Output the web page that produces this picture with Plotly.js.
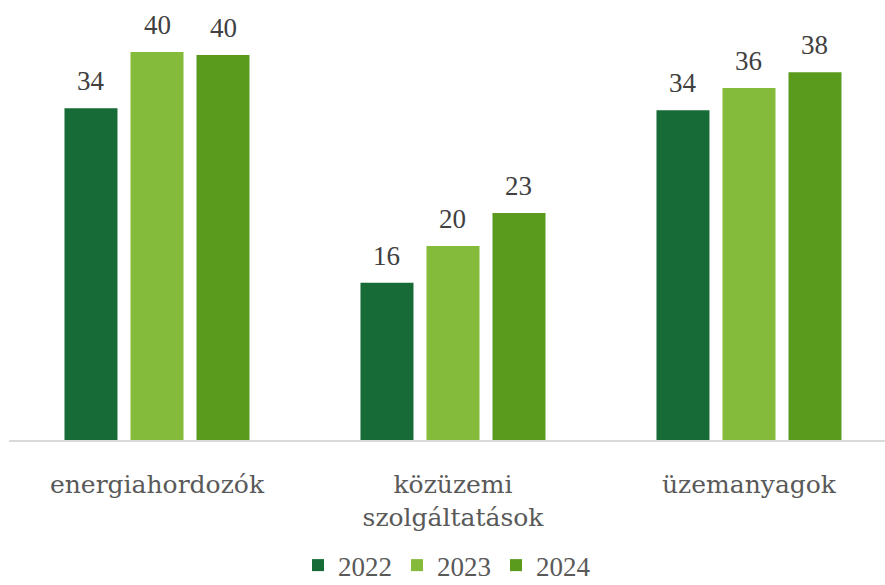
<!DOCTYPE html>
<html>
<head>
<meta charset="utf-8">
<script src="https://cdn.plot.ly/plotly-3.0.1.min.js"></script>
<style>html,body{margin:0;padding:0;background:#fff;}#chart{width:885px;height:585px;}</style>
</head>
<body>
<div id="chart"></div>
<script>
const categories = ['energiahordozók', 'közüzemi<br>szolgáltatások', 'üzemanyagok'];
const seriesNames = ['2022', '2023', '2024'];
const values2022 = [34.2, 16.2, 34.0];
const values2023 = [40.0, 20.0, 36.3];
const values2024 = [39.7, 23.4, 37.9];
const colors = ['#166B37', '#84BB3B', '#5A9A1C'];

const allValues = [values2022, values2023, values2024];
const traces = allValues.map((vals, i) => ({
  type: 'bar',
  name: seriesNames[i],
  x: categories,
  y: vals,
  marker: {color: colors[i]},
  hoverinfo: 'skip'
}));

const slot = 66; // px offset between bars in a group
const annotations = [];
allValues.forEach((vals, i) => {
  vals.forEach((v, j) => {
    annotations.push({
      x: categories[j], y: v, xref: 'x', yref: 'y',
      text: String(Math.round(v)),
      showarrow: false, yanchor: 'bottom',
      xshift: (i - 1) * slot, yshift: 10,
      font: {family: 'Liberation Serif', size: 27, color: '#404040'}
    });
  });
});

const layout = {
  width: 885, height: 585,
  margin: {l: 9, r: 0, t: 10, b: 145, autoexpand: false},
  paper_bgcolor: '#ffffff', plot_bgcolor: '#ffffff',
  barmode: 'group', bargap: 0.331, bargroupgap: 0.197,
  xaxis: {
    range: [-0.5, 2.4595], automargin: false,
    showline: true, linecolor: '#d9d9d9', linewidth: 2,
    showgrid: false, zeroline: false, ticks: '',
    ticklabelstandoff: 21,
    tickfont: {family: 'DejaVu Serif', size: 25, color: '#595959'}
  },
  yaxis: {
    range: [0, 44.33], visible: false, showgrid: false, zeroline: false
  },
  showlegend: true,
  legend: {
    orientation: 'h', x: 0.5, xanchor: 'center', y: -0.292, yanchor: 'middle',
    font: {family: 'Liberation Serif', size: 27, color: '#595959'},
    itemwidth: 30
  },
  annotations: annotations
};

Plotly.newPlot('chart', traces, layout, {displayModeBar: false, staticPlot: true});
</script>
</body>
</html>
